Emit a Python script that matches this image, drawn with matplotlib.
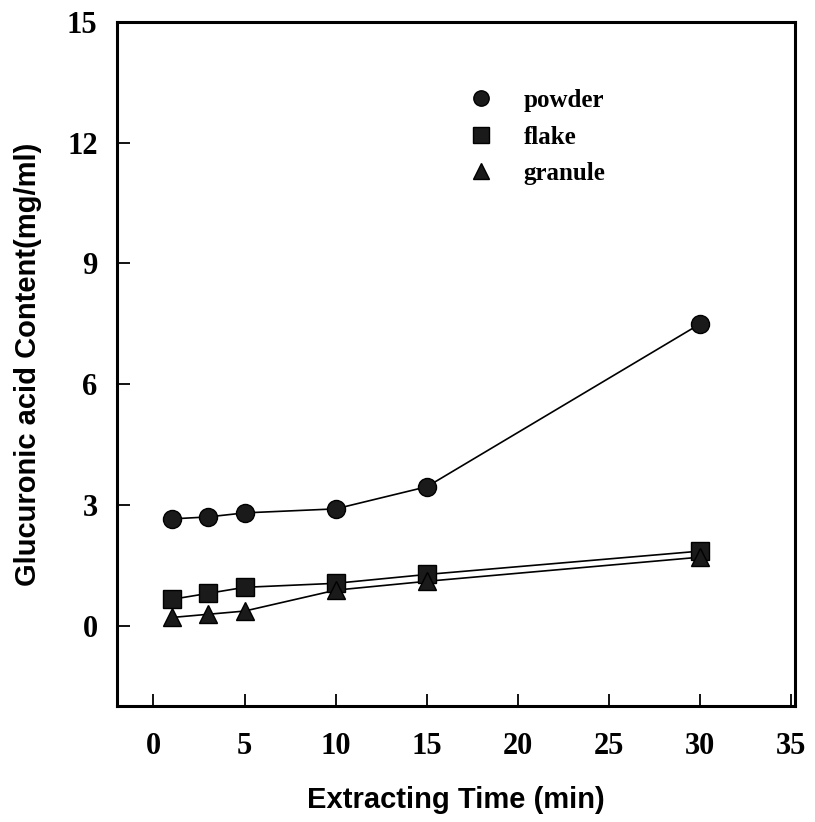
import matplotlib
matplotlib.use('Agg')
import matplotlib.pyplot as plt

# 数据
time_min = [1, 3, 5, 10, 15, 30]
powder = [2.65, 2.7, 2.8, 2.9, 3.45, 7.5]
flake = [0.65, 0.8, 0.95, 1.05, 1.27, 1.85]
granule = [0.2, 0.28, 0.36, 0.88, 1.1, 1.7]
labels = ['powder', 'flake', 'granule']
x_ticks = [0, 5, 10, 15, 20, 25, 30, 35]
y_ticks = [0, 3, 6, 9, 12, 15]

serif = {'family': 'Liberation Serif', 'weight': 'bold'}
sans = {'family': 'Liberation Sans', 'weight': 'bold'}

fig = plt.figure(figsize=(8.15, 8.22), dpi=100)
ax = fig.add_axes([0.1436, 0.1411, 0.8319, 0.8321])

series = [(powder, 'o'), (flake, 's'), (granule, '^')]
for (vals, mk), lab in zip(series, labels):
    ax.plot(time_min, vals, color='black', lw=1.2, zorder=2)
    ax.plot(time_min, vals, ls='none', marker=mk, ms=13, color='#1a1a1a',
            mec='black', label=lab, zorder=3)

ax.set_xlim(-2, 35.2)
ax.set_ylim(-2, 15)
ax.set_xticks(x_ticks)
ax.set_yticks(y_ticks)
ax.tick_params(direction='in', length=9, width=1.3)
ax.tick_params(axis='x', pad=19)
ax.tick_params(axis='y', pad=14)
for t in ax.get_xticklabels() + ax.get_yticklabels():
    t.set_fontproperties(serif)
    t.set_fontsize(22)
for s in ax.spines.values():
    s.set_linewidth(2.2)

ax.set_xlabel('Extracting Time (min)', fontdict=sans, fontsize=21, labelpad=18)
ax.set_ylabel('Glucuronic acid Content(mg/ml)', fontdict=sans, fontsize=21, labelpad=18)

leg = ax.legend(loc='upper left', bbox_to_anchor=(0.5, 0.92), frameon=False,
                handlelength=1.0, handletextpad=1.2, labelspacing=0.54,
                markerscale=0.85, borderpad=0,
                prop={'family': 'Liberation Serif', 'weight': 'bold', 'size': 18})

fig.savefig('out.png', dpi=100)
